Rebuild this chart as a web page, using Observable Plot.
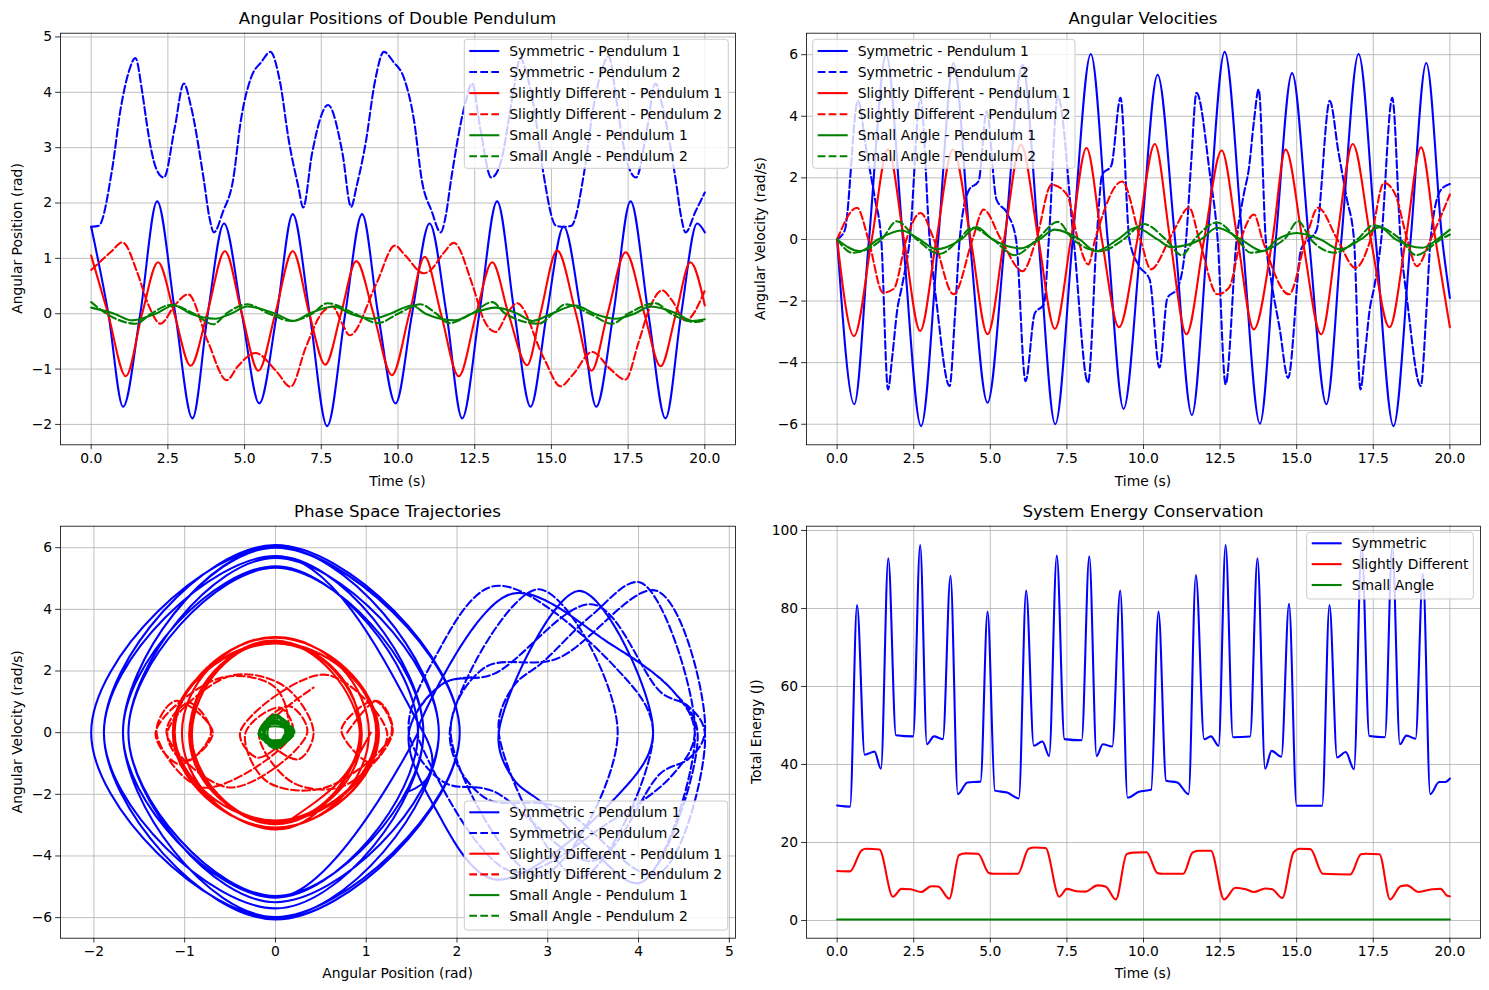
<!DOCTYPE html>
<html><head><meta charset="utf-8">
<script src="https://cdn.jsdelivr.net/npm/d3@7"></script>
<script src="https://cdn.jsdelivr.net/npm/@observablehq/plot@0.6"></script>
<style>
body{margin:0;background:#fff;}
#fig{position:relative;width:1489px;height:990px;background:#fff;overflow:hidden;}
.panel{position:absolute;}
</style></head><body><div id="fig"></div>
<script>
// ---------- DATA ----------
// Symmetric, pendulum 1
const symP1_t = [0,0.56,1.04,1.60,2.15,2.74,3.30,3.80,4.33,4.91,5.48,6.05,6.57,7.12,7.69,8.28,8.83,9.35,9.92,10.46,11.03,11.58,12.09,12.65,13.23,13.80,14.32,14.85,15.40,15.97,16.46,17.02,17.58,18.16,18.72,19.23,19.75,20.0];
const symP1_theta = [1.57,0,-1.68,0,2.03,0,-1.89,0,1.63,0,-1.62,0,1.80,0,-2.03,0,1.80,0,-1.62,0,1.63,0,-1.89,0,2.03,0,-1.68,0,1.57,0,-1.68,0,2.03,0,-1.89,0,1.63,1.47];
const symP1_omega = [0,-5.35,0,6.0,0,-6.06,0,5.73,0,-5.3,0,5.67,0,-6.0,0,6.02,0,-5.5,0,5.35,0,-5.7,0,6.09,0,-5.98,0,5.4,0,-5.35,0,6.02,0,-6.06,0,5.73,0,-1.9];
// Symmetric, pendulum 2
const symP2_t = [0,0.25,0.68,0.96,1.23,1.44,1.66,1.8,1.96,2.12,2.37,2.72,3.02,3.25,3.67,3.85,4.0,4.3,4.62,4.88,5.2,5.55,5.84,6.15,6.45,6.75,6.91,7.2,7.72,8.19,8.47,8.65,8.95,9.25,9.54,9.85,10.2,10.52,10.78,11.1,11.39,11.55,11.73,12.17,12.42,12.68,13.04,13.28,13.44,13.6,13.76,13.99,14.17,14.44,14.72,15.15,15.4,15.65,16.08,16.36,16.63,16.87,17.08,17.22,17.38,17.54,17.76,18.12,18.39,18.62,19.05,19.23,19.37,19.7,20];
const symP2_theta = [1.57,1.59,2.6,3.7,4.38,4.62,4.02,3.48,2.95,2.62,2.46,3.35,4.16,3.75,2.42,1.75,1.47,1.85,2.4,3.5,4.25,4.55,4.73,4.2,3.1,2.3,1.92,2.9,3.77,2.9,1.93,2.3,3.1,4.2,4.73,4.55,4.25,3.5,2.4,1.85,1.47,1.75,2.42,3.75,4.16,3.35,2.46,2.62,2.95,3.48,4.02,4.62,4.38,3.7,2.6,1.59,1.57,1.59,2.6,3.7,4.38,4.65,4.02,3.48,2.95,2.62,2.46,3.35,4.16,3.75,2.42,1.75,1.47,1.85,2.19];
const symP2_omega = [0,0.3,4.5,2.86,1.35,0,-4.87,-3.8,-2.3,-1.5,0,4.6,0,-2.1,-4.76,-2.4,0,1.6,1.9,4.16,1.3,0.85,0,-4.6,-2.4,-2.1,0,4.65,0,-4.65,0,2.1,2.4,4.6,0,-0.85,-1.3,-4.16,-1.9,-1.6,0,2.4,4.76,2.1,0,-4.7,0,1.5,2.3,3.8,4.87,0,-1.35,-2.86,-4.5,-0.3,0,0.3,4.5,2.86,1.35,0,-4.87,-3.8,-2.3,-1.5,0,4.6,0,-2.1,-4.76,-2.4,0,1.6,1.8];
// Slightly different, pendulum 1
const difP1_t = [0,0.55,1.13,1.66,2.18,2.71,3.24,3.78,4.36,4.91,5.45,6.0,6.57,7.11,7.63,8.14,8.64,9.2,9.8,10.37,10.87,11.4,11.98,12.55,13.07,13.6,14.21,14.64,15.19,15.8,16.31,16.83,17.42,18.03,18.56,19.06,19.53,20];
const difP1_theta = [1.05,0,-1.13,0,0.93,0,-0.94,0,1.13,0,-1.03,0,1.13,0,-0.92,0,0.95,0,-1.11,0,1.03,0,-1.13,0,0.93,0,-0.93,0,1.14,0,-1.03,0,1.11,0,-0.95,0,0.93,0.15];
const difP1_omega = [0,-3.14,0,2.92,0,-2.97,0,2.92,0,-3.08,0,3.08,0,-2.9,0,2.97,0,-2.85,0,3.1,0,-3.08,0,2.89,0,-2.92,0,2.92,0,-3.08,0,3.1,0,-2.85,0,2.99,0,-2.85];
// Slightly different, pendulum 2
const difP2_t = [0,0.65,1.02,1.5,1.85,2.26,2.72,3.16,3.8,4.42,4.78,5.35,6.05,6.5,7.0,7.5,7.86,8.2,8.42,9.3,9.9,10.24,10.84,11.05,11.49,11.82,12.41,12.79,13.18,13.61,13.88,14.75,15.3,15.7,16.33,16.92,17.41,17.85,18.2,18.61,18.92,19.37,20];
const difP2_theta = [0.79,1.12,1.29,0.75,0.18,-0.18,0.15,0.35,-0.5,-1.2,-0.95,-0.71,-1.05,-1.32,-0.6,0.0,0.13,-0.2,-0.39,0.55,1.23,1.05,0.73,0.78,1.1,1.28,0.55,-0.1,-0.33,0.05,0.19,-0.8,-1.31,-1.1,-0.69,-1.0,-1.19,-0.5,0.1,0.42,0.25,-0.12,0.42];
const difP2_omega = [0,1.03,0,-1.73,-1.6,0,0.86,0,-1.78,0,0.97,0,-1.03,0,1.78,1.46,0,-0.81,0,1.88,0,-0.97,0,0.4,1.03,0,-1.78,-1.57,0,0.81,0,-1.78,0,1.03,0,-0.92,0,1.84,1.5,0,-0.87,0,1.46];
// Small angle, pendulum 1
const smlP1_t = [0,0.75,1.33,2.1,2.69,3.25,4.05,4.55,5.08,6.0,6.6,7.1,7.91,8.45,9.16,9.75,10.46,10.9,11.87,12.4,13.18,13.9,14.37,15.0,15.78,16.4,17.09,17.7,18.23,19.1,19.59,20];
const smlP1_theta = [0.11,0,-0.12,0,0.15,0,-0.09,0,0.13,0,-0.13,0,0.13,0,-0.09,0,0.15,0,-0.12,0,0.11,0,-0.13,0,0.15,0,-0.09,0,0.13,0,-0.13,-0.1];
const smlP1_omega = [0,-0.38,0,0.29,0,-0.32,0,0.4,0,-0.29,0,0.32,0,-0.38,0,0.38,0,-0.25,0,0.38,0,-0.38,0,0.21,0,-0.32,0,0.4,0,-0.27,0,0.32];
// Small angle, pendulum 2
const smlP2_t = [0,0.5,1.45,1.95,2.6,3.35,3.98,4.4,5.08,5.8,6.52,7.2,7.7,8.6,9.35,10.0,10.73,11.25,11.66,12.4,13.07,13.5,14.59,15.05,15.46,16.25,16.98,17.5,18.39,18.9,19.7,20];
const smlP2_theta = [0.21,0,-0.18,0,0.16,0,-0.19,0,0.17,0,-0.13,0,0.19,0,-0.17,0,0.17,0,-0.17,0,0.21,0,-0.18,0,0.17,0,-0.18,0,0.19,0,-0.15,-0.12];
const smlP2_omega = [0,-0.43,0,0.59,0,-0.47,0,0.38,0,-0.51,0,0.57,0,-0.38,0,0.5,0,-0.51,0,0.55,0,-0.43,0,0.59,0,-0.43,0,0.46,0,-0.51,0,0.16];
// Energy
const enSym_t = [0,0.42,0.65,0.9,1.22,1.43,1.67,1.92,2.48,2.71,2.93,3.16,3.45,3.70,3.94,4.25,4.68,4.91,5.15,5.55,5.93,6.17,6.42,6.7,6.92,7.17,7.42,7.98,8.23,8.47,8.67,8.98,9.24,9.48,9.85,10.25,10.49,10.74,11.1,11.47,11.71,11.98,12.2,12.45,12.68,12.92,13.48,13.72,13.97,14.18,14.5,14.75,15.0,15.83,16.07,16.32,16.6,16.87,17.12,17.37,17.88,18.12,18.37,18.58,18.88,19.12,19.36,19.65,19.85,20];
const enSym = [29.5,29.2,80.9,42.5,43.3,38.9,92.9,47.5,47.2,96.3,45.2,47.2,46.5,88.4,32.4,35.4,35.6,79.2,33.3,32.8,31.3,84.6,44.8,45.9,42.2,93.6,46.5,46.2,93.4,42.2,45.2,44.6,84.6,31.5,33.0,33.5,79.2,35.8,35.4,32.4,88.6,46.5,47.2,44.8,96.3,47.0,47.2,92.9,38.9,43.5,42.0,81.2,29.4,29.4,80.9,41.8,43.2,38.8,96.1,47.3,47.0,96.0,45.2,47.4,46.6,88.9,32.4,35.5,35.5,36.4];
const enDif_t = [0,0.42,0.8,0.95,1.38,1.82,2.1,2.4,2.74,3.07,3.3,3.66,3.98,4.2,4.6,4.95,5.1,5.9,6.25,6.45,6.8,7.25,7.5,7.8,8.1,8.5,8.76,9.1,9.45,9.65,10.1,10.45,10.6,11.3,11.6,11.8,12.2,12.63,13.0,13.34,13.6,13.98,14.2,14.53,14.9,15.1,15.45,15.85,16.75,17.1,17.25,17.7,18.05,18.39,18.6,18.98,19.42,19.7,19.9,20];
const enDif = [12.7,12.6,18.0,18.4,18.2,6.1,8.1,8.0,7.3,8.8,8.7,5.6,16.8,17.2,17.1,12.2,12.0,12.0,18.4,18.7,18.6,6.1,8.1,7.5,7.4,9.0,8.7,5.4,17.0,17.4,17.5,12.2,12.0,12.0,17.4,17.9,17.9,5.4,8.4,8.0,7.3,8.2,8.0,5.8,17.5,18.4,18.3,12.0,11.8,17.0,17.1,17.0,5.4,8.8,9.0,7.3,8.0,8.1,6.4,6.2];
const enSml_t = [0,5,10,15,20];
const enSml = [0.26,0.26,0.26,0.26,0.26];
// Ticks and labels
const timeTicks = [0,2.5,5,7.5,10,12.5,15,17.5,20];
const posTicks = [-2,-1,0,1,2,3,4,5];
const velTicks = [-6,-4,-2,0,2,4,6];
const phaseXTicks = [-2,-1,0,1,2,3,4,5];
const energyTicks = [0,20,40,60,80,100];
const pendLabels = ["Symmetric - Pendulum 1","Symmetric - Pendulum 2","Slightly Different - Pendulum 1","Slightly Different - Pendulum 2","Small Angle - Pendulum 1","Small Angle - Pendulum 2"];
const energyLabels = ["Symmetric","Slightly Different","Small Angle"];

// ---------- BUILD ----------
const BLUE="#0000ff", RED="#ff0000", GREEN="#008000";
const DASH="7.7,3.3", LW=2.08;
const zip = (t,a,b)=>t.map((d,i)=>({t:d,theta:a[i],omega:b[i]}));
// phase-curve style per series (library curve names)
const series = [
  {rows:zip(symP1_t,symP1_theta,symP1_omega),color:BLUE,dash:false,phase:{curve:"cardinal",tension:-0.2}},
  {rows:zip(symP2_t,symP2_theta,symP2_omega),color:BLUE,dash:true,phase:{curve:"catmull-rom"}},
  {rows:zip(difP1_t,difP1_theta,difP1_omega),color:RED,dash:false,phase:{curve:"natural"}},
  {rows:zip(difP2_t,difP2_theta,difP2_omega),color:RED,dash:true,phase:{curve:"catmull-rom"}},
  {rows:zip(smlP1_t,smlP1_theta,smlP1_omega),color:GREEN,dash:false,phase:{curve:"natural"}},
  {rows:zip(smlP2_t,smlP2_theta,smlP2_omega),color:GREEN,dash:true,phase:{curve:"catmull-rom"}}
];
const energy = [
  {rows:enSym_t.map((t,i)=>({t,e:enSym[i]})),color:BLUE},
  {rows:enDif_t.map((t,i)=>({t,e:enDif[i]})),color:RED},
  {rows:enSml_t.map((t,i)=>({t,e:enSml[i]})),color:GREEN}
];
function pad(vals){const lo=d3.min(vals),hi=d3.max(vals),r=hi-lo;return [lo-0.05*r,hi+0.05*r];}
const allT = series.flatMap(s=>s.rows.map(r=>r.t));
const allTheta = series.flatMap(s=>s.rows.map(r=>r.theta));
const allOmega = series.flatMap(s=>s.rows.map(r=>r.omega));
const allE = energy.flatMap(s=>s.rows.map(r=>r.e));

const fmt1 = d3.format(".1f");
const fmtInt = d3.format("d");
const fig = document.getElementById("fig");

function panel({left,top,width,height,ml,mr,mt,mb,xDomain,yDomain,xTicks,yTicks,xFmt,yFmt,marks}){
  const grid = {stroke:"#b0b0b0",strokeOpacity:1,strokeWidth:0.8};
  const p = Plot.plot({
    width,height,marginLeft:ml,marginRight:mr,marginTop:mt,marginBottom:mb,
    style:{fontFamily:"'DejaVu Sans'",fontSize:"13.89px",color:"black",background:"transparent",overflow:"visible"},
    x:{domain:xDomain,label:null},
    y:{domain:yDomain,label:null},
    marks:[
      Plot.gridX(xTicks,grid),
      Plot.gridY(yTicks,grid),
      ...marks,
      Plot.frame({stroke:"black",strokeWidth:0.8}),
      Plot.axisX(xTicks,{tickSize:4.86,tickPadding:3.5,tickFormat:xFmt,label:null,strokeWidth:0.8}),
      Plot.axisY(yTicks,{tickSize:4.86,tickPadding:3.5,tickFormat:yFmt,label:null,strokeWidth:0.8})
    ]
  });
  const div = document.createElement("div");
  div.className="panel";
  div.style.left=left+"px"; div.style.top=top+"px"; div.style.width=width+"px"; div.style.height=height+"px";
  div.appendChild(p);
  fig.appendChild(div);
}
const lineOpts = (s,x,y,curveOpts)=>({x,y,stroke:s.color,strokeWidth:LW,strokeDasharray:s.dash?DASH:undefined,...curveOpts});

const tDom = pad(allT);
// Top-left: angular positions
panel({left:0,top:0,width:745,height:495,ml:60,mr:10,mt:32.7,mb:50.7,
  xDomain:tDom,yDomain:pad(allTheta),xTicks:timeTicks,yTicks:posTicks,xFmt:fmt1,yFmt:fmtInt,
  marks:series.map(s=>Plot.line(s.rows,lineOpts(s,"t","theta",{curve:"monotone-x"})))});
// Top-right: angular velocities
panel({left:740,top:0,width:745,height:495,ml:66,mr:5,mt:32.7,mb:50.7,
  xDomain:tDom,yDomain:pad(allOmega),xTicks:timeTicks,yTicks:velTicks,xFmt:fmt1,yFmt:fmtInt,
  marks:series.map(s=>Plot.line(s.rows,lineOpts(s,"t","omega",{curve:"monotone-x"})))});
// Bottom-left: phase space
panel({left:0,top:495,width:745,height:495,ml:60,mr:10,mt:30.7,mb:52.3,
  xDomain:pad(allTheta),yDomain:pad(allOmega),xTicks:phaseXTicks,yTicks:velTicks,xFmt:fmtInt,yFmt:fmtInt,
  marks:series.map(s=>Plot.line(s.rows,lineOpts(s,"theta","omega",s.phase)))});
// Bottom-right: energy
panel({left:740,top:495,width:745,height:495,ml:66,mr:5,mt:30.7,mb:52.3,
  xDomain:tDom,yDomain:pad(allE),xTicks:timeTicks,yTicks:energyTicks,xFmt:fmt1,yFmt:fmtInt,
  marks:energy.map(s=>Plot.line(s.rows,{x:"t",y:"e",stroke:s.color,strokeWidth:LW,curve:"monotone-x"}))});

// ---------- overlay: titles, axis labels, legends ----------
const ov = d3.select(fig).append("svg").attr("width",1489).attr("height",990)
  .style("position","absolute").style("left","0px").style("top","0px")
  .style("font-family","'DejaVu Sans'").style("pointer-events","none");
const titles = [["Angular Positions of Double Pendulum",397.5,24.4],["Angular Velocities",1143,24.4],
  ["Phase Space Trajectories",397.5,517.4],["System Energy Conservation",1143,517.4]];
titles.forEach(([s,x,y])=>ov.append("text").attr("x",x).attr("y",y).attr("text-anchor","middle").attr("font-size","16.67px").attr("fill","black").text(s));
const xl = [["Time (s)",397.5,486],["Time (s)",1143,486],["Angular Position (rad)",397.5,977.5],["Time (s)",1143,977.5]];
xl.forEach(([s,x,y])=>ov.append("text").attr("x",x).attr("y",y).attr("text-anchor","middle").attr("font-size","13.89px").text(s));
const yl = [["Angular Position (rad)",21.5,238.5],["Angular Velocity (rad/s)",765,238.5],["Angular Velocity (rad/s)",21.5,731.7],["Total Energy (J)",761,731.7]];
yl.forEach(([s,x,y])=>ov.append("text").attr("transform",`translate(${x},${y}) rotate(-90)`).attr("text-anchor","middle").attr("font-size","13.89px").text(s));

function legend(x,y,w,h,items,rowY0,dy){
  const g = ov.append("g");
  g.append("rect").attr("x",x).attr("y",y).attr("width",w).attr("height",h).attr("rx",3)
    .attr("fill","white").attr("fill-opacity",0.8).attr("stroke","#cccccc").attr("stroke-width",1);
  items.forEach((it,i)=>{
    const cy = rowY0+i*dy;
    g.append("line").attr("x1",x+5).attr("x2",x+35).attr("y1",cy).attr("y2",cy)
      .attr("stroke",it.color).attr("stroke-width",LW).attr("stroke-dasharray",it.dash?DASH:null);
    g.append("text").attr("x",x+45).attr("y",cy).attr("dy","0.36em").attr("font-size","13.89px").text(it.label);
  });
}
const pendItems = series.map((s,i)=>({color:s.color,dash:s.dash,label:pendLabels[i]}));
legend(464.3,39.3,264,129,pendItems,51,21.06);
legend(812.7,39.3,262.3,129,pendItems,51,21.06);
legend(464.3,801,263.4,129,pendItems,812.3,20.7);
legend(1306.7,532.3,166.6,66.7,energy.map((s,i)=>({color:s.color,dash:false,label:energyLabels[i]})),543.3,20.85);
</script></body></html>
